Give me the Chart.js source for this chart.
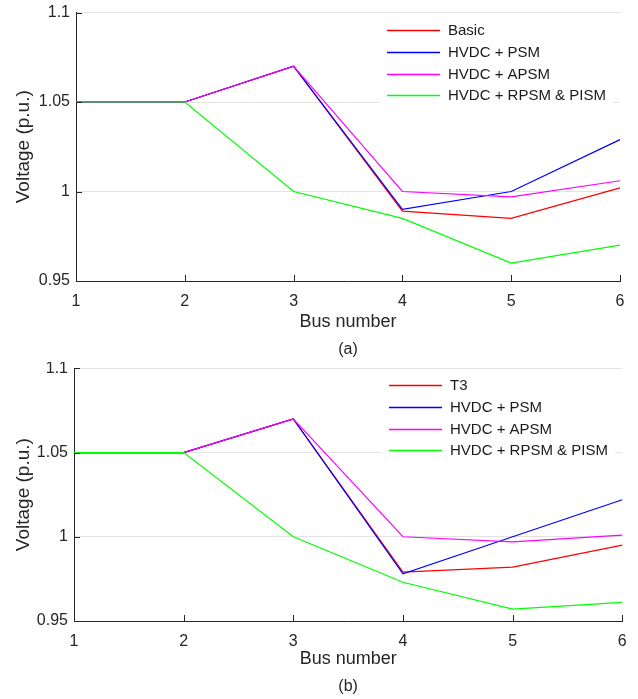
<!DOCTYPE html>
<html>
<head>
<meta charset="utf-8">
<script src="https://cdn.jsdelivr.net/npm/chart.js@4.4.1/dist/chart.umd.min.js"></script>
<style>
  body { margin: 0; background: #fff; }
  canvas { display: block; }
</style>
</head>
<body>
<canvas id="chart-a" width="638" height="362"></canvas>
<canvas id="chart-b" width="638" height="337"></canvas>
<script>
var busNumbers = ['1', '2', '3', '4', '5', '6'];
var yTicks = [0.95, 1, 1.05, 1.1];

var namesA = ['Basic', 'HVDC + PSM', 'HVDC + APSM', 'HVDC + RPSM & PISM'];
var basicA = [1.05, 1.05, 1.07, 0.989, 0.985, 1.002];
var psmA   = [1.05, 1.05, 1.07, 0.990, 1.000, 1.029];
var apsmA  = [1.05, 1.05, 1.07, 1.000, 0.997, 1.006];
var rpsmA  = [1.05, 1.05, 1.00, 0.985, 0.960, 0.970];

var namesB = ['T3', 'HVDC + PSM', 'HVDC + APSM', 'HVDC + RPSM & PISM'];
var t3B    = [1.05, 1.05, 1.07, 0.979, 0.982, 0.995];
var psmB   = [1.05, 1.05, 1.07, 0.978, 1.000, 1.022];
var apsmB  = [1.05, 1.05, 1.07, 1.000, 0.997, 1.001];
var rpsmB  = [1.05, 1.05, 1.00, 0.973, 0.957, 0.961];

var lineColors = ['#ff0000', '#0000ff', '#ff00ff', '#00ff00'];
var axisColor = '#262626';
var gridColor = '#e3e3e3';
var fontFamily = '"Liberation Sans", Arial, sans-serif';

Chart.defaults.font.family = fontFamily;
Chart.defaults.color = axisColor;

// MATLAB style ticks pointing into the plot
var innerTicks = {
  id: 'innerTicks',
  afterDatasetsDraw: function(chart) {
    var ctx = chart.ctx, a = chart.chartArea, xs = chart.scales.x, ys = chart.scales.y;
    ctx.save();
    ctx.strokeStyle = axisColor;
    ctx.lineWidth = 1;
    ctx.beginPath();
    xs.ticks.forEach(function(t, i) {
      var px = Math.round(xs.getPixelForTick(i)) + 0.5;
      ctx.moveTo(px, a.bottom); ctx.lineTo(px, a.bottom - 6);
    });
    ys.ticks.forEach(function(t, i) {
      var py = Math.round(ys.getPixelForTick(i)) + 0.5;
      ctx.moveTo(a.left, py); ctx.lineTo(a.left + 6, py);
    });
    ctx.stroke();
    ctx.restore();
  }
};

// legend drawn inside the axes, top right, on a white box
var boxLegend = {
  id: 'boxLegend',
  afterDraw: function(chart) {
    var ctx = chart.ctx, a = chart.chartArea;
    var left = Math.round(a.right - 240), top = Math.round(a.top + 2);
    ctx.save();
    ctx.fillStyle = '#ffffff';
    ctx.fillRect(left, top, 233, 94);
    ctx.font = '15px ' + fontFamily;
    ctx.textBaseline = 'middle';
    ctx.textAlign = 'left';
    for (var i = 0; i < chart.data.datasets.length; i++) {
      var y = Math.round(top + 14.8 + i * 21.9);
      ctx.globalAlpha = 1;
      ctx.fillStyle = lineColors[i];
      ctx.fillRect(left + 7, y - 0.25, 53, 1.5);
      ctx.fillStyle = '#1a1a1a';
      ctx.fillText(chart.data.datasets[i].label, left + 68, y + 1);
    }
    ctx.restore();
  }
};

function makeChart(id, caption, names, series, dims) {
  var ctx = document.getElementById(id);
  new Chart(ctx.getContext('2d'), {
    type: 'line',
    data: {
      labels: busNumbers,
      datasets: series.map(function(s, i) {
        return { label: names[i], data: s, borderColor: lineColors[i], backgroundColor: lineColors[i],
          borderWidth: 1.2, pointRadius: 0, tension: 0, fill: false, order: 3 - i };
      })
    },
    options: {
      responsive: false, animation: false,
      layout: { padding: { top: dims.padTop, right: dims.padRight, left: 0, bottom: 0 } },
      plugins: {
        legend: { display: false },
        tooltip: { enabled: false },
        title: { display: true, text: caption, position: 'bottom', fullSize: false,
          font: { size: 16, weight: 'normal' }, color: axisColor, padding: { top: 0, bottom: 2.5 } }
      },
      scales: {
        x: {
          offset: false,
          grid: { display: false, drawTicks: false },
          border: { display: true, color: axisColor, width: 1 },
          ticks: { font: { size: 16 }, color: axisColor, padding: 11, maxRotation: 0 },
          title: { display: true, text: 'Bus number', font: { size: 18 }, color: axisColor, padding: { top: 0, bottom: 7.3 } },
          afterFit: function(s) { s.height = dims.xHeight; }
        },
        y: {
          min: 0.95, max: 1.1,
          grid: { color: gridColor, drawTicks: false },
          border: { display: true, color: axisColor, width: 1 },
          ticks: { font: { size: 16 }, color: axisColor, padding: 6,
            callback: function(v) { return String(Number(v.toFixed(2))); } },
          afterBuildTicks: function(s) { s.ticks = yTicks.map(function(v) { return { value: v }; }); },
          title: { display: true, text: 'Voltage (p.u.)', font: { size: 19 }, color: axisColor, padding: { top: 12.5, bottom: 0 } },
          afterFit: function(s) { s.width = dims.yWidth; s.paddingTop = 0; s.paddingBottom = 0; }
        }
      }
    },
    plugins: [innerTicks, boxLegend]
  });
}

makeChart('chart-a', '(a)', namesA, [basicA, psmA, apsmA, rpsmA],
  { yWidth: 76, padRight: 18, padTop: 12.5, xHeight: 59.3 });
makeChart('chart-b', '(b)', namesB, [t3B, psmB, apsmB, rpsmB],
  { yWidth: 74, padRight: 15.7, padTop: 6.3, xHeight: 56.3 });
</script>
</body>
</html>
